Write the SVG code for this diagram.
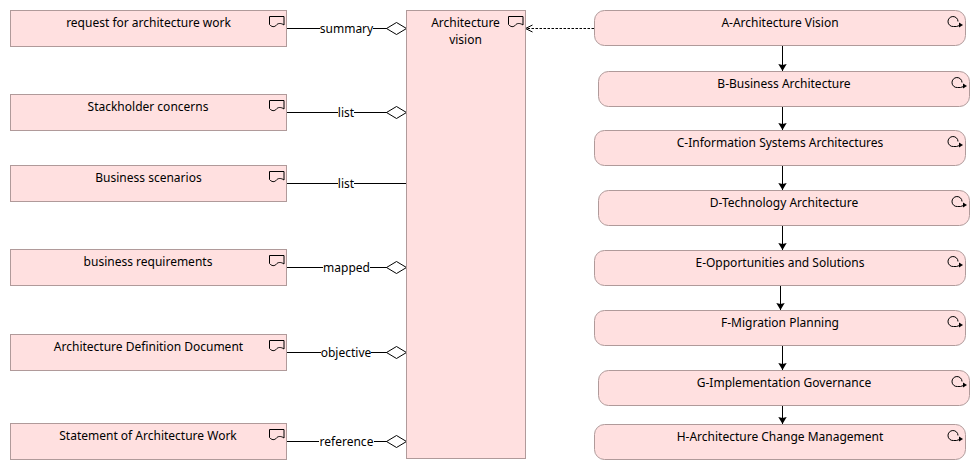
<svg xmlns="http://www.w3.org/2000/svg" width="980" height="470" viewBox="0 0 980 470">
<style>
text{font-family:"Noto Sans","Open Sans",sans-serif;font-size:12px;fill:#000;text-anchor:middle}
.box{fill:#ffe0e0;stroke:#b09a9a;stroke-width:1}
.ic{fill:none;stroke:#000;stroke-width:1}
.ln{fill:none;stroke:#000;stroke-width:1}
.lb{fill:#fff;stroke:none}
</style>
<defs>
<path id="doc" class="ic" d="M0 0H14.500V8.500C11 6 8 7 7 8.500C5 11 2 10.500 0 8Z"/>
<g id="proc"><path class="ic" d="M12 9.500Q9 11 6 10.500A5 5 0 1 1 10.500 5.500"/><path d="M11.500 6.500L15.500 9L11.500 11.500Z" fill="#000"/></g>
<marker id="dia" markerUnits="userSpaceOnUse" markerWidth="22" markerHeight="14" refX="21" refY="7" orient="auto"><path d="M1 7L11 1L21 7L11 13Z" fill="#fff" stroke="#000"/></marker>
<marker id="arr" markerUnits="userSpaceOnUse" markerWidth="8" markerHeight="12" refX="7" refY="5" orient="auto"><path d="M0 0.800L7 5L0 9.200L1 5Z" fill="#000"/></marker>
<marker id="open" markerUnits="userSpaceOnUse" markerWidth="9" markerHeight="10" refX="8" refY="5" orient="auto"><path d="M1 1.500L8 5L1 8.500" fill="none" stroke="#000"/></marker>
</defs>
<g id="connectors">
<path class="ln" d="M286.500 28.500H406.500" marker-end="url(#dia)"/>
<path class="ln" d="M286.500 112.500H406.500" marker-end="url(#dia)"/>
<path class="ln" d="M286.500 183.500H406.500"/>
<path class="ln" d="M286.500 267.500H406.500" marker-end="url(#dia)"/>
<path class="ln" d="M286.500 352.500H406.500" marker-end="url(#dia)"/>
<path class="ln" d="M286.500 441.500H406.500" marker-end="url(#dia)"/>
<rect class="lb" x="320" y="20" width="53" height="18"/><text x="346.500" y="33">summary</text>
<rect class="lb" x="338" y="104" width="16" height="18"/><text x="346" y="117">list</text>
<rect class="lb" x="338" y="175" width="16" height="18"/><text x="346" y="188">list</text>
<rect class="lb" x="323" y="259" width="47" height="18"/><text x="346.500" y="272">mapped</text>
<rect class="lb" x="321" y="344" width="50" height="18"/><text x="346" y="357">objective</text>
<rect class="lb" x="319" y="433" width="55" height="18"/><text x="346.500" y="446">reference</text>
<path class="ln" stroke-dasharray="2.500 1.500" d="M594 28.500H525.500" marker-end="url(#open)"/>
<path class="ln" d="M782.500 45.500V71" marker-end="url(#arr)"/>
<path class="ln" d="M782.500 106.500V130" marker-end="url(#arr)"/>
<path class="ln" d="M782.500 165.500V190" marker-end="url(#arr)"/>
<path class="ln" d="M782.500 225.500V250" marker-end="url(#arr)"/>
<path class="ln" d="M780.500 285.500V310" marker-end="url(#arr)"/>
<path class="ln" d="M782.500 345.500V370" marker-end="url(#arr)"/>
<path class="ln" d="M782.500 405.500V424" marker-end="url(#arr)"/>
</g>
<g id="n1"><rect class="box" x="10.500" y="10.500" width="276" height="36"/><use href="#doc" x="269.500" y="16.500"/><text x="148.500" y="27">request for architecture work</text></g>
<g id="n2"><rect class="box" x="10.500" y="94.500" width="276" height="36"/><use href="#doc" x="269.500" y="100.500"/><text x="148" y="111">Stackholder concerns</text></g>
<g id="n3"><rect class="box" x="10.500" y="165.500" width="276" height="36"/><use href="#doc" x="269.500" y="171.500"/><text x="148.500" y="182">Business scenarios</text></g>
<g id="n4"><rect class="box" x="10.500" y="249.500" width="276" height="36"/><use href="#doc" x="269.500" y="255.500"/><text x="148" y="266">business requirements</text></g>
<g id="n5"><rect class="box" x="10.500" y="334.500" width="276" height="36"/><use href="#doc" x="269.500" y="340.500"/><text x="148.500" y="351">Architecture Definition Document</text></g>
<g id="n6"><rect class="box" x="10.500" y="423.500" width="276" height="36"/><use href="#doc" x="269.500" y="429.500"/><text x="148" y="440">Statement of Architecture Work</text></g>
<g id="vision"><rect class="box" x="406.500" y="10.500" width="119" height="448"/><use href="#doc" x="508.500" y="16.500"/><text x="465.500" y="27">Architecture</text><text x="465.500" y="44">vision</text></g>
<g id="A"><rect class="box" x="594.500" y="10.500" width="371" height="35" rx="10"/><use href="#proc" x="947.500" y="16"/><text x="780" y="27">A-Architecture Vision</text></g>
<g id="B"><rect class="box" x="598.500" y="71.500" width="371" height="35" rx="10"/><use href="#proc" x="951.500" y="77"/><text x="784" y="88">B-Business Architecture</text></g>
<g id="C"><rect class="box" x="594.500" y="130.500" width="371" height="35" rx="10"/><use href="#proc" x="947.500" y="136"/><text x="780" y="147">C-Information Systems Architectures</text></g>
<g id="D"><rect class="box" x="598.500" y="190.500" width="371" height="35" rx="10"/><use href="#proc" x="951.500" y="196"/><text x="784" y="207">D-Technology Architecture</text></g>
<g id="E"><rect class="box" x="594.500" y="250.500" width="371" height="35" rx="10"/><use href="#proc" x="947.500" y="256"/><text x="780" y="267">E-Opportunities and Solutions</text></g>
<g id="F"><rect class="box" x="594.500" y="310.500" width="371" height="35" rx="10"/><use href="#proc" x="947.500" y="316"/><text x="780" y="327">F-Migration Planning</text></g>
<g id="G"><rect class="box" x="598.500" y="370.500" width="371" height="35" rx="10"/><use href="#proc" x="951.500" y="376"/><text x="784" y="387">G-Implementation Governance</text></g>
<g id="H"><rect class="box" x="594.500" y="424.500" width="371" height="35" rx="10"/><use href="#proc" x="947.500" y="430"/><text x="780" y="441">H-Architecture Change Management</text></g>
</svg>
